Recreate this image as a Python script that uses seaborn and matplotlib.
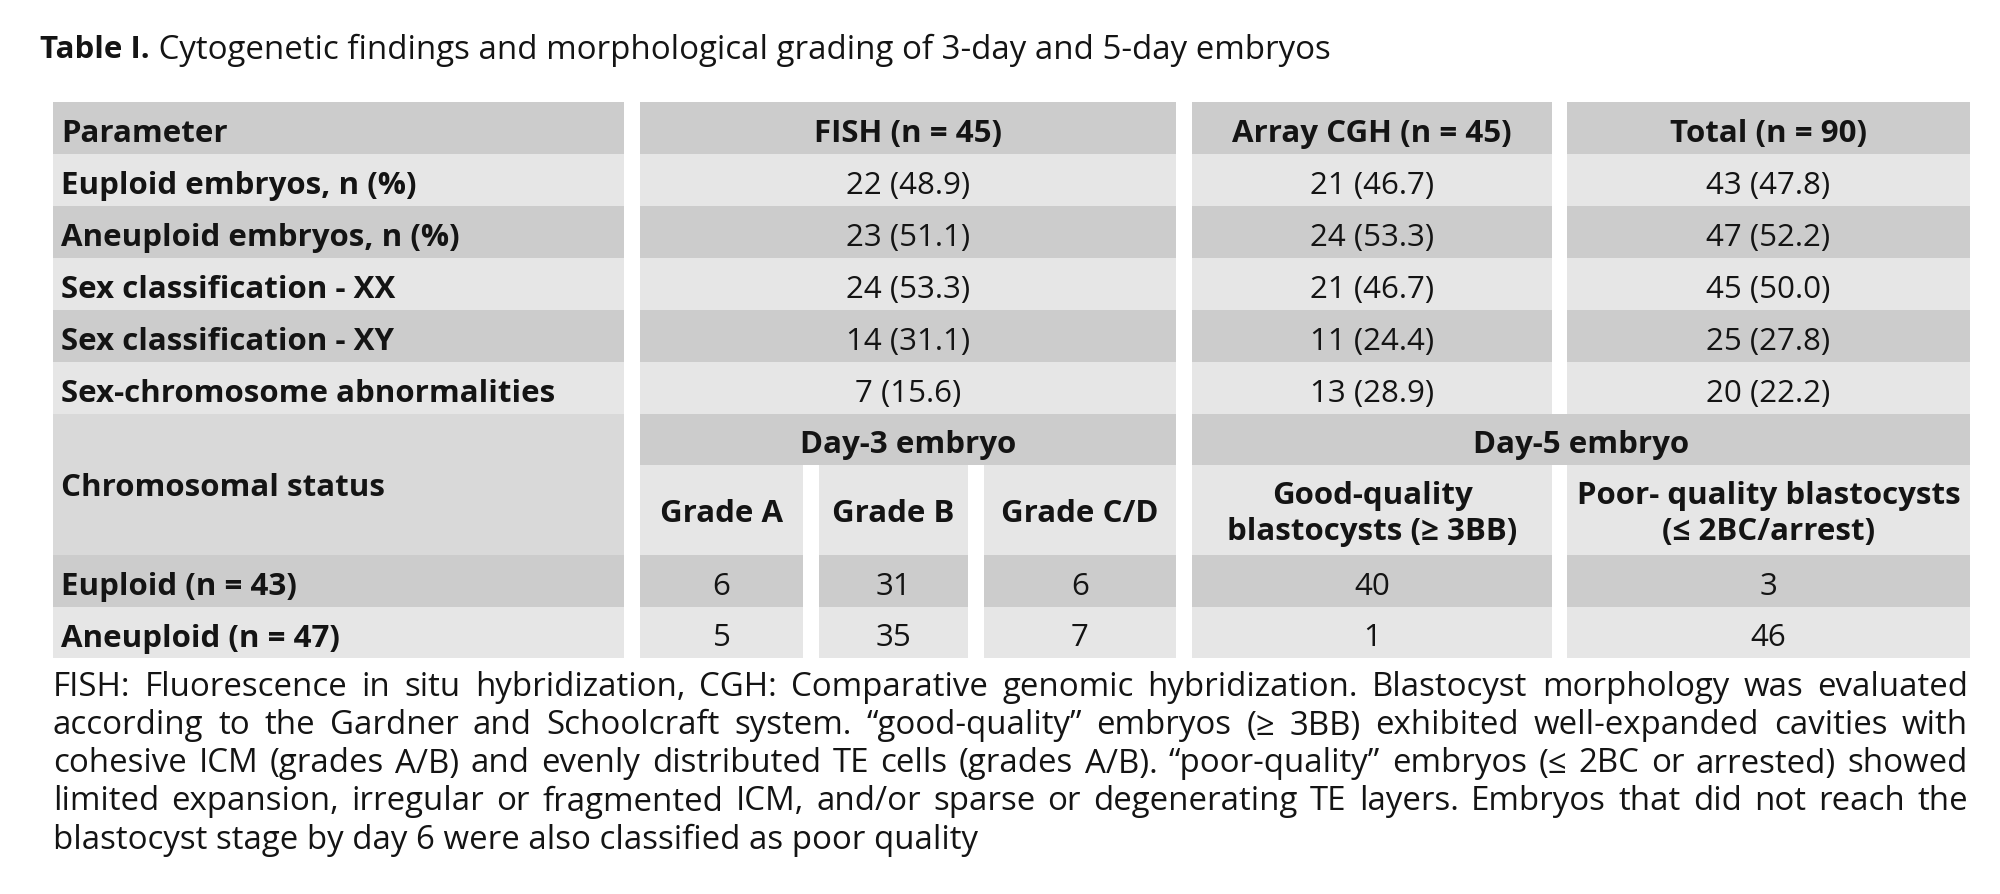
import numpy as np
import pandas as pd
import seaborn as sns
import matplotlib
import matplotlib.pyplot as plt
from matplotlib.patches import Rectangle

matplotlib.use('Agg')

title_bold = 'Table I.'
title_rest = ' Cytogenetic findings and morphological grading of 3-day and 5-day embryos'

col_headers = ['Parameter', 'FISH (n = 45)', 'Array CGH (n = 45)', 'Total (n = 90)']
params = ['Euploid embryos, n (%)', 'Aneuploid embryos, n (%)', 'Sex classification - XX',
          'Sex classification - XY', 'Sex-chromosome abnormalities']
fish = ['22 (48.9)', '23 (51.1)', '24 (53.3)', '14 (31.1)', '7 (15.6)']
cgh = ['21 (46.7)', '24 (53.3)', '21 (46.7)', '11 (24.4)', '13 (28.9)']
total = ['43 (47.8)', '47 (52.2)', '45 (50.0)', '25 (27.8)', '20 (22.2)']

status_label = 'Chromosomal status'
day3_label = 'Day-3 embryo'
day5_label = 'Day-5 embryo'
grade_labels = ['Grade A', 'Grade B', 'Grade C/D',
                'Good-quality\nblastocysts (≥ 3BB)', 'Poor- quality blastocysts\n(≤ 2BC/arrest)']
status_rows = ['Euploid (n = 43)', 'Aneuploid (n = 47)']
grade_a = [6, 5]
grade_b = [31, 35]
grade_cd = [6, 7]
good_q = [40, 1]
poor_q = [3, 46]

caption_lines = [
    'FISH: Fluorescence in situ hybridization, CGH: Comparative genomic hybridization. Blastocyst morphology was evaluated',
    'according to the Gardner and Schoolcraft system. \u201cgood-quality\u201d embryos (\u2265 3BB) exhibited well-expanded cavities with',
    'cohesive ICM (grades A/B) and evenly distributed TE cells (grades A/B). \u201cpoor-quality\u201d embryos (\u2264 2BC or arrested) showed',
    'limited expansion, irregular or fragmented ICM, and/or sparse or degenerating TE layers. Embryos that did not reach the',
    'blastocyst stage by day 6 were also classified as poor quality',
]

sns.set_theme(style='white')
plt.rcParams['font.family'] = ['Open Sans', 'DejaVu Sans']

DARK = '#cccccc'
LIGHT = '#e6e6e6'
MID = '#d9d9d9'
INK = '#141414'
FS = 22.5      # table cells
FS_TXT = 23.8  # title and footnote
DY = 5         # nudge text down inside cells

fig = plt.figure(figsize=(20, 8.95), dpi=100)
ax = fig.add_axes([0, 0, 1, 1])
ax.set_xlim(0, 2000)
ax.set_ylim(895, 0)
ax.axis('off')

# column edges (pixels)
top_cols = [(53, 624), (640, 1176), (1192, 1552), (1567, 1970)]
sub_cols = [(640, 803), (819, 968), (984, 1176), (1192, 1552), (1567, 1970)]
top_rows = [103, 155, 207, 259, 311, 363, 415]


def cell(x0, x1, y0, y1, color):
    ax.add_patch(Rectangle((x0, y0), x1 - x0, y1 - y0, facecolor=color, edgecolor='none'))


def put(x, y, s, bold=False, ha='center'):
    return ax.text(x, y + DY, s, ha=ha, va='center', fontsize=FS, color=INK,
                   fontweight='bold' if bold else 'normal', linespacing=1.3)


# upper block
body = [params, fish, cgh, total]
for r in range(6):
    y0, y1 = top_rows[r], top_rows[r + 1]
    color = DARK if r % 2 == 0 else LIGHT
    for c, (x0, x1) in enumerate(top_cols):
        cell(x0, x1, y0, y1, color)
        if r == 0:
            txt, bold = col_headers[c], True
        else:
            txt, bold = body[c][r - 1], c == 0
        if c == 0:
            put(x0 + 8, (y0 + y1) / 2, txt, bold=True, ha='left')
        else:
            put((x0 + x1) / 2, (y0 + y1) / 2, txt, bold=bold)

# lower block
cell(53, 624, 415, 556, MID)
put(61, 483, status_label, bold=True, ha='left')
cell(640, 1176, 415, 466, DARK)
put(908, 440.5, day3_label, bold=True)
cell(1192, 1970, 415, 466, DARK)
put(1581, 440.5, day5_label, bold=True)
for (x0, x1), lab in zip(sub_cols, grade_labels):
    cell(x0, x1, 466, 556, LIGHT)
    put((x0 + x1) / 2, 509, lab, bold=True)

lower_rows = [(556, 608), (608, 659)]
lower_vals = [grade_a, grade_b, grade_cd, good_q, poor_q]
for i, (y0, y1) in enumerate(lower_rows):
    color = DARK if i == 0 else LIGHT
    cell(53, 624, y0, y1, color)
    put(61, (y0 + y1) / 2, status_rows[i], bold=True, ha='left')
    for (x0, x1), vals in zip(sub_cols, lower_vals):
        cell(x0, x1, y0, y1, color)
        put((x0 + x1) / 2, (y0 + y1) / 2, str(vals[i]))

# title
renderer = fig.canvas.get_renderer()
tb = ax.text(40, 50, title_bold, ha='left', va='center', fontsize=FS, color=INK, fontweight='bold')
w = tb.get_window_extent(renderer).width
ax.text(40 + w, 50, title_rest, ha='left', va='center', fontsize=FS_TXT, color=INK)

# justified caption
left, right = 53, 1968
for i, line in enumerate(caption_lines):
    y = 688 + i * 38
    if i == len(caption_lines) - 1:
        ax.text(left, y, line, ha='left', va='center', fontsize=FS_TXT, color=INK)
        continue
    words = line.split(' ')
    items = [ax.text(0, y, wd, ha='left', va='center', fontsize=FS_TXT, color=INK) for wd in words]
    widths = [t.get_window_extent(renderer).width for t in items]
    gap = (right - left - sum(widths)) / (len(words) - 1)
    x = left
    for t, wd in zip(items, widths):
        t.set_x(x)
        x += wd + gap

plt.savefig('out.png', dpi=100)
plt.close()
